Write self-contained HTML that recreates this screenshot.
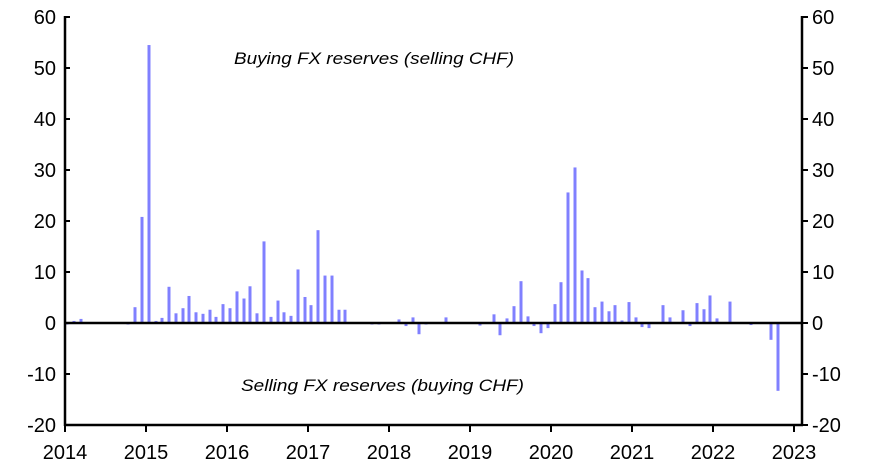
<!DOCTYPE html>
<html><head><style>body{margin:0;background:#fff}svg{display:block}text{font-family:"Liberation Sans",Arial,sans-serif}</style></head>
<body>
<svg width="870" height="471" viewBox="0 0 870 471" xmlns="http://www.w3.org/2000/svg">
<g id="bars" fill="#8080ff"></g>
<g stroke="#000" stroke-width="2.5" fill="none">
<line x1="65" y1="16" x2="65" y2="426"/>
<line x1="802" y1="16" x2="802" y2="426"/>
<line x1="64" y1="425" x2="803" y2="425"/>
<line x1="65" y1="323" x2="802" y2="323"/>
</g>
<g stroke="#000" stroke-width="2" id="ticks"></g>
<g font-size="20" fill="#000" id="labels"></g>
<text x="234" y="64" font-size="17" font-style="italic" textLength="280" lengthAdjust="spacingAndGlyphs">Buying FX reserves (selling CHF)</text>
<text x="241" y="391" font-size="17" font-style="italic" textLength="283" lengthAdjust="spacingAndGlyphs">Selling FX reserves (buying CHF)</text>
<script>
var d=[[67,-0.3],[74,0.4],[81,0.8],[128,-0.3],[135,3.1],[142,20.8],[149,54.5],[156,0.4],[162,1.0],[169,7.1],[176,1.9],[183,2.9],[189,5.3],[196,2.1],[203,1.8],[210,2.6],[216,1.2],[223,3.7],[230,2.9],[237,6.2],[244,4.8],[250,7.2],[257,1.9],[264,16.0],[271,1.2],[278,4.4],[284,2.1],[291,1.4],[298,10.5],[305,5.1],[311,3.5],[318,18.2],[325,9.3],[332,9.3],[339,2.6],[345,2.6],[372,-0.3],[379,-0.3],[399,0.7],[406,-0.6],[413,1.1],[419,-2.2],[426,-0.3],[446,1.1],[480,-0.5],[494,1.7],[500,-2.4],[507,0.9],[514,3.3],[521,8.2],[528,1.3],[534,-0.6],[541,-2.0],[548,-1.0],[555,3.7],[561,8.0],[568,25.6],[575,30.5],[582,10.3],[588,8.8],[595,3.1],[602,4.2],[609,2.3],[615,3.5],[622,0.5],[629,4.1],[636,1.1],[642,-0.8],[649,-1.0],[663,3.5],[670,1.1],[683,2.5],[690,-0.6],[697,3.9],[704,2.7],[710,5.4],[717,0.9],[730,4.2],[751,-0.4],[771,-3.3],[778,-13.3]];
var ns="http://www.w3.org/2000/svg",b=document.getElementById("bars"),s=5.1,z=323;
d.forEach(function(p){var r=document.createElementNS(ns,"rect");var h=Math.abs(p[1])*s;r.setAttribute("x",p[0]-1.5);r.setAttribute("width",3);r.setAttribute("y",p[1]>=0?z-h:z);r.setAttribute("height",h);b.appendChild(r);});
var t=document.getElementById("ticks"),l=document.getElementById("labels");
function ln(a,b2,c,e){var x=document.createElementNS(ns,"line");x.setAttribute("x1",a);x.setAttribute("y1",b2);x.setAttribute("x2",c);x.setAttribute("y2",e);t.appendChild(x);}
function tx(x,y,s2,a){var e=document.createElementNS(ns,"text");e.setAttribute("x",x);e.setAttribute("y",y);e.setAttribute("text-anchor",a);e.textContent=s2;l.appendChild(e);}
for(var v=-20;v<=60;v+=10){var y=z-v*s;ln(65,y,70,y);ln(802,y,808,y);tx(56,y+7,v,"end");tx(812,y+7,v,"start");}
for(var i=0;i<=9;i++){var x=65+i*81;ln(x,425,x,432);tx(x,459,2014+i,"middle");}
</script>
</svg>
</body></html>
